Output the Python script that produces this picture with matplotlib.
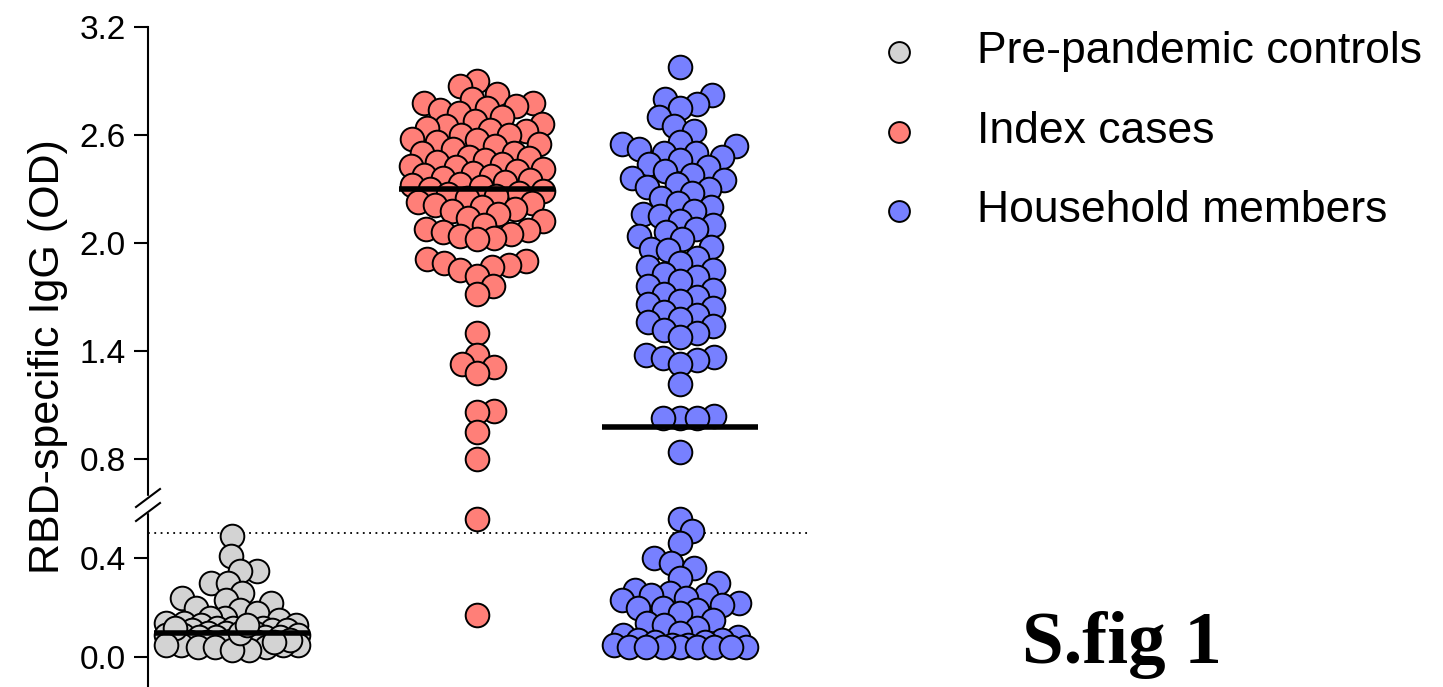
import numpy as np
import matplotlib
matplotlib.use("Agg")
import matplotlib.pyplot as plt

plt.rcParams['font.family'] = ['Liberation Sans', 'DejaVu Sans']

groups = ["Pre-pandemic controls", "Index cases", "Household members"]
colors = ["#d3d3d3", "#ff7f78", "#7780ff"]
medians = [0.10, 2.30, 0.98]
threshold = 0.5

pre = [0.49, 0.41, 0.35, 0.35, 0.30, 0.30, 0.26, 0.24, 0.23, 0.22, 0.20, 0.19, 0.18, 0.16,
       0.16, 0.15, 0.14, 0.14, 0.13, 0.13, 0.12, 0.12, 0.12, 0.11, 0.11, 0.11, 0.10, 0.10,
       0.10, 0.09, 0.09, 0.09, 0.08, 0.08, 0.08, 0.08, 0.07, 0.07, 0.07, 0.06, 0.06, 0.06,
       0.06, 0.05, 0.05, 0.05, 0.05, 0.04, 0.04, 0.04, 0.03, 0.03, 0.10, 0.12, 0.13, 0.07,
       0.06, 0.05]
index = [2.90, 2.87, 2.83, 2.80, 2.78, 2.78, 2.76, 2.75, 2.74, 2.72, 2.70, 2.68, 2.66, 2.65,
         2.64, 2.63, 2.62, 2.60, 2.60, 2.58, 2.57, 2.56, 2.55, 2.54, 2.52, 2.50, 2.50, 2.48,
         2.47, 2.46, 2.45, 2.44, 2.43, 2.42, 2.41, 2.40, 2.39, 2.38, 2.37, 2.36, 2.35, 2.34,
         2.33, 2.32, 2.31, 2.30, 2.29, 2.28, 2.27, 2.26, 2.25, 2.23, 2.22, 2.21, 2.20, 2.19,
         2.18, 2.16, 2.14, 2.12, 2.10, 2.08, 2.07, 2.06, 2.05, 2.04, 2.03, 2.02, 1.91, 1.90,
         1.89, 1.88, 1.87, 1.85, 1.82, 1.76, 1.72, 1.50, 1.38, 1.33, 1.31, 1.28, 1.07, 1.06,
         0.95, 0.80, 0.56, 0.17]
household = [2.98, 2.82, 2.80, 2.77, 2.75, 2.70, 2.65, 2.62, 2.56, 2.55, 2.54, 2.52, 2.50,
             2.50, 2.48, 2.46, 2.44, 2.42, 2.40, 2.38, 2.36, 2.35, 2.33, 2.31, 2.30, 2.28,
             2.25, 2.22, 2.20, 2.18, 2.16, 2.15, 2.12, 2.10, 2.08, 2.06, 2.04, 2.02, 1.98,
             1.97, 1.96, 1.92, 1.89, 1.87, 1.85, 1.83, 1.81, 1.79, 1.76, 1.74, 1.72, 1.70,
             1.68, 1.66, 1.64, 1.62, 1.60, 1.58, 1.56, 1.54, 1.52, 1.50, 1.48, 1.38, 1.37,
             1.36, 1.35, 1.33, 1.22, 1.04, 1.03, 1.03, 1.03, 0.84, 0.56, 0.51, 0.46, 0.40,
             0.38, 0.36, 0.32, 0.30, 0.27, 0.26, 0.25, 0.25, 0.24, 0.23, 0.22, 0.21, 0.20,
             0.20, 0.19, 0.18, 0.15, 0.14, 0.13, 0.12, 0.10, 0.09, 0.08, 0.07, 0.07, 0.06,
             0.06, 0.05, 0.05, 0.05, 0.04, 0.04, 0.04, 0.04, 0.04, 0.04, 0.04, 0.04]
data = [pre, index, household]
yticks = [0.0, 0.4, 0.8, 1.4, 2.0, 2.6, 3.2]

def fwd(y):
    y = np.asarray(y, float)
    return np.where(y <= 0.61, 247.5 * y,
           np.where(y <= 0.8, 151 + (y - 0.61) / 0.19 * 47, 198 + (y - 0.8) * 180))

def inv(p):
    p = np.asarray(p, float)
    return np.where(p <= 151, p / 247.5,
           np.where(p <= 198, 0.61 + (p - 151) / 47 * 0.19, 0.8 + (p - 198) / 180))

W, H = 1443, 687
fig = plt.figure(figsize=(W / 100, H / 100), dpi=100)
ax = fig.add_axes([148 / W, 0.0, (808 - 148) / W, (687 - 27) / H])
ax.set_yscale('function', functions=(fwd, inv))
ax.set_ylim(-0.12, 3.2)
ax.set_xlim(148, 808)
centers = [232, 477, 680]

D = 17.0
MAXW = 66
def swarm(vals, cx):
    vals = np.array(vals)
    order = np.argsort(vals)
    py = fwd(vals)
    placed = []
    xs = np.zeros(len(vals))
    cands = [0.0]
    for k in range(1, MAXW + 1):
        cands += [float(k), float(-k)]
    for i in order:
        yv = py[i]
        best, bestd = None, -1
        for off in cands:
            md = min([np.hypot(off - ox, yv - oy) for ox, oy in placed] or [1e9])
            if md >= D:
                best = off
                break
            if md > bestd:
                bestd, bestoff = md, off
        if best is None:
            best = bestoff
        placed.append((best, yv))
        xs[i] = cx + best
    return xs

for vals, cx, c, m in zip(data, centers, colors, medians):
    xs = swarm(vals, cx)
    ax.scatter(xs, vals, s=290, color=c, edgecolor='black', linewidth=1.4, zorder=3,
               clip_on=False)
    ax.plot([cx - 78, cx + 78], [m, m], color='black', lw=4, zorder=4, solid_capstyle='butt')

ax.axhline(threshold, color='black', lw=1.3, ls=(0, (1, 2.5)), zorder=1)

for s in ['top', 'right', 'bottom']:
    ax.spines[s].set_visible(False)
ax.spines['left'].set_linewidth(1.5)
ax.set_xticks([])
ax.set_yticks(yticks)
ax.set_yticklabels([f"{t:.1f}" for t in yticks], fontsize=24)
ax.tick_params(axis='y', direction='out', length=10, width=1.5, pad=6)
ax.set_ylabel("RBD-specific IgG (OD)", fontsize=31, labelpad=8)

bt = fig.transFigure
by = 1 - 505 / H
fig.patches.append(plt.Rectangle((144 / W, 1 - 512 / H), 8 / W, 16 / H, transform=bt,
                                 color='white', zorder=5))
for dy in (-7, 7):
    fig.lines.append(plt.Line2D([136 / W, 160 / W], [by + (dy - 9) / H, by + (dy + 9) / H],
                                transform=bt, color='black', lw=1.5, zorder=6))

for i, (g, c) in enumerate(zip(groups, colors)):
    yy = 1 - (52 + 79.5 * i) / H
    fig.add_artist(plt.Line2D([899 / W], [yy], marker='o', markersize=15, color=c,
                              markeredgecolor='black', markeredgewidth=1.4, transform=bt))
    fig.text(977 / W, yy, g, fontsize=32, va='center', ha='left')

fig.text(1122 / W, 1 - 645 / H, "S.fig 1", fontsize=54, fontweight='bold',
         family=['Liberation Serif'], ha='center', va='center')

fig.savefig("out.png", dpi=100)
